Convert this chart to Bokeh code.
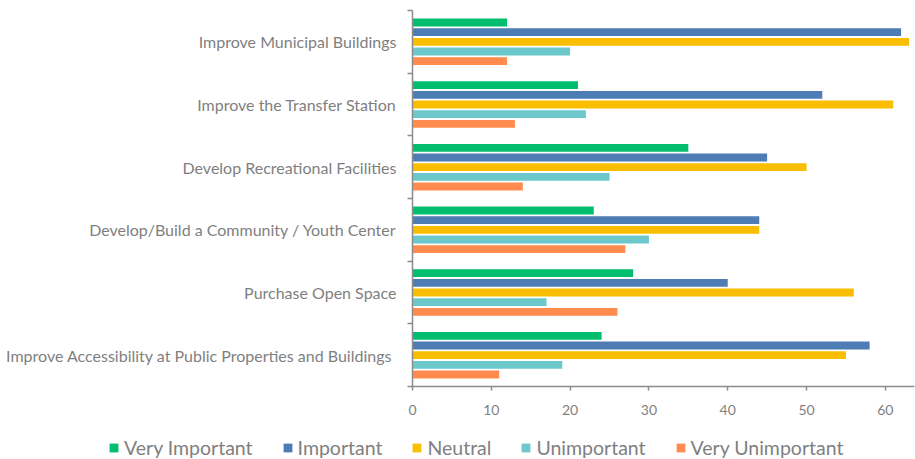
from bokeh.plotting import figure
from bokeh.models import Range1d, FixedTicker, ColumnDataSource, Legend
from bokeh.embed import file_html
from bokeh.resources import INLINE

categories = [
    "Improve Municipal Buildings",
    "Improve the Transfer Station",
    "Develop Recreational Facilities",
    "Develop/Build a Community / Youth Center",
    "Purchase Open Space",
    "Improve Accessibility  at Public Properties and Buildings",
]
series_names = ["Very Important", "Important", "Neutral", "Unimportant", "Very Unimportant"]
very_important = [12, 21, 35, 23, 28, 24]
important = [62, 52, 45, 44, 40, 58]
neutral = [63, 61, 50, 44, 56, 55]
unimportant = [20, 22, 25, 30, 17, 19]
very_unimportant = [12, 13, 14, 27, 26, 11]
x_ticks = [0, 10, 20, 30, 40, 50, 60]

colors = ["#00BE6E", "#4E7CB5", "#F9BE00", "#6DC8CC", "#FF8C4E"]
all_series = [very_important, important, neutral, unimportant, very_unimportant]

FONT = "Lato"
TXT = "#7f7f7f"
AX = "#8c8c8c"

W = 915
H_MAIN = 425
H_LEG = 34

n = len(categories)
p = figure(width=W, height=H_MAIN, x_range=Range1d(0, 63.7), y_range=Range1d(0, n),
           output_backend="svg", toolbar_location=None,
           min_border_left=412, min_border_right=1, min_border_top=10, min_border_bottom=39)
p.outline_line_color = None
p.grid.visible = False

slot = 0.154
bar_h = 0.125
centers = [n - 0.5 - i for i in range(n)]
for j, (name, vals, col) in enumerate(zip(series_names, all_series, colors)):
    off = (2 - j) * slot
    src = ColumnDataSource(dict(y=[c + off for c in centers], right=vals))
    p.hbar(y="y", right="right", left=0, height=bar_h, source=src,
           fill_color=col, line_color=None)

# x axis
xa = p.xaxis[0]
xa.ticker = FixedTicker(ticks=x_ticks)
xa.axis_line_color = AX
xa.axis_line_width = 1.5
xa.major_tick_line_color = AX
xa.major_tick_line_width = 1.5
xa.major_tick_out = 4
xa.major_tick_in = 0
xa.minor_tick_line_color = None
xa.major_label_text_font = FONT
xa.major_label_text_font_size = "14px"
xa.major_label_text_color = TXT
xa.major_label_standoff = 14

# y axis
ya = p.yaxis[0]
ya.ticker = FixedTicker(ticks=centers, minor_ticks=list(range(n + 1)))
ya.major_label_overrides = {c: name for c, name in zip(centers, categories)}
ya.axis_line_color = AX
ya.axis_line_width = 1.5
ya.major_tick_line_color = None
ya.major_tick_out = 0
ya.major_tick_in = 0
ya.minor_tick_line_color = AX
ya.minor_tick_line_width = 1.5
ya.minor_tick_out = 5
ya.minor_tick_in = 0
ya.major_label_text_font = FONT
ya.major_label_text_font_size = "16px"
ya.major_label_text_color = TXT
ya.major_label_standoff = 11

# legend strip (separate root so its frame is not aligned with the chart frame)
lf = figure(width=W, height=H_LEG, x_range=Range1d(0, 63.7), y_range=Range1d(0, 1),
            output_backend="svg", toolbar_location=None,
            min_border_left=0, min_border_right=0, min_border_top=0, min_border_bottom=0)
lf.axis.visible = False
lf.grid.visible = False
lf.outline_line_color = None
items = []
for name, vals, col in zip(series_names, all_series, colors):
    # zero-height proxies of each series: invisible, but they give the legend its swatches
    src = ColumnDataSource(dict(y=[0] * len(vals), right=vals))
    r = lf.hbar(y="y", right="right", left=0, height=0, source=src,
                fill_color=col, line_color=None)
    items.append((name, [r]))
legend = Legend(items=items, orientation="horizontal", location=(108, 0),
                padding=0, margin=0, spacing=29, label_standoff=5,
                glyph_width=11, glyph_height=11,
                label_text_font=FONT, label_text_font_size="19.5px",
                label_text_color=TXT, border_line_color=None,
                background_fill_alpha=0)
lf.add_layout(legend, "center")

open("out.html", "w").write(file_html([p, lf], INLINE))
